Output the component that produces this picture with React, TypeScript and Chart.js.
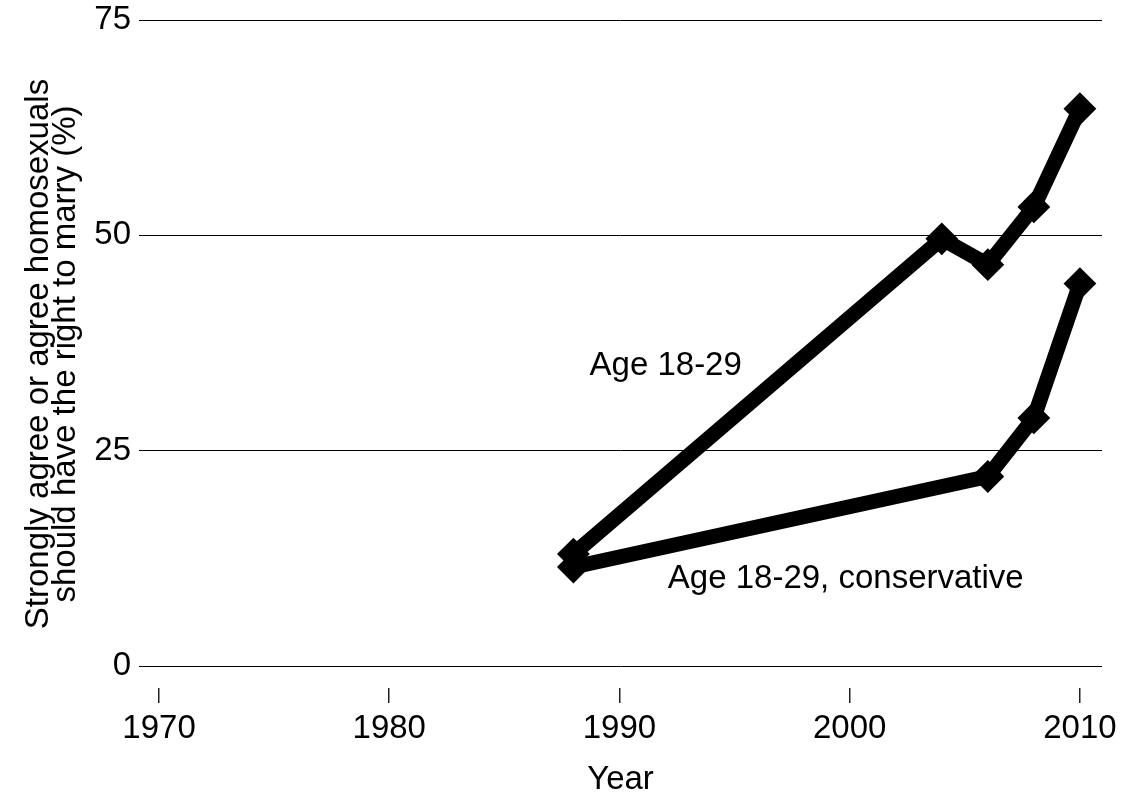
import { useEffect, useRef } from "react";
import { Chart, registerables } from "chart.js";

Chart.register(...registerables);

const yearsYoung = [1988, 2004, 2006, 2008, 2010];
const valuesYoung = [13.0, 49.6, 46.6, 53.3, 64.7];
const yearsCons = [1988, 2006, 2008, 2010];
const valuesCons = [11.5, 22.0, 28.8, 44.4];
const xTicks = [1970, 1980, 1990, 2000, 2010];
const yTicks = [0, 25, 50, 75];
const seriesLabels = [
  { text: "Age 18-29", x: 1988.7, y: 33.8 },
  { text: "Age 18-29, conservative", x: 1992.1, y: 9.1 },
];
const yTitle = ["Strongly agree or agree homosexuals", "should have the right to marry (%)"];
const xTitle = "Year";

const FONT = '"Liberation Sans", Arial, Helvetica, sans-serif';
const FS = 33;

const labelPlugin = {
  id: "seriesLabels",
  afterDatasetsDraw(chart: any) {
    const { ctx, scales } = chart;
    const xs = scales.x;
    const ys = scales.y;
    ctx.save();
    ctx.font = `${FS}px ${FONT}`;
    ctx.fillStyle = "#000";
    ctx.textAlign = "left";
    ctx.textBaseline = "alphabetic";
    for (const l of seriesLabels) {
      ctx.fillText(l.text, xs.getPixelForValue(l.x), ys.getPixelForValue(l.y));
    }
    ctx.restore();
  },
};

export default function App() {
  const ref = useRef<HTMLCanvasElement | null>(null);

  useEffect(() => {
    document.body.style.margin = "0";
    const canvas = ref.current;
    if (!canvas) return;
    const ds = (xs: number[], vs: number[]) => ({
      data: xs.map((x, i) => ({ x, y: vs[i] })),
      borderColor: "#000",
      borderWidth: 15,
      pointStyle: "rectRot" as const,
      pointRadius: 15,
      pointBorderWidth: 2,
      pointBackgroundColor: "#000",
      pointBorderColor: "#000",
      tension: 0,
      fill: false,
    });
    const chart = new Chart(canvas, {
      type: "line",
      data: {
        datasets: [ds(yearsYoung, valuesYoung), ds(yearsCons, valuesCons)],
      },
      options: {
        animation: false,
        responsive: false,
        devicePixelRatio: 1,
        layout: { padding: { top: 20, right: 19, left: 0, bottom: 0 } },
        plugins: { legend: { display: false }, tooltip: { enabled: false } },
        scales: {
          x: {
            type: "linear",
            min: 1969.13,
            max: 2010.96,
            afterBuildTicks: (s: any) => {
              s.ticks = xTicks.map((v) => ({ value: v }));
            },
            afterFit: (s: any) => {
              s.height = 105;
              s.paddingLeft = 0;
              s.paddingRight = 0;
            },
            border: { display: false },
            grid: {
              drawOnChartArea: false,
              drawTicks: true,
              tickLength: 15,
              color: "#222",
              lineWidth: 1.5,
            },
            ticks: {
              color: "#000",
              font: { family: FONT, size: FS },
              padding: 6,
              maxRotation: 0,
              autoSkip: false,
              callback: (v: any) => String(v),
            },
            title: {
              display: true,
              text: xTitle,
              color: "#000",
              font: { family: FONT, size: FS, lineHeight: 0.8 },
              padding: 0,
            },
          },
          y: {
            type: "linear",
            min: -2.55,
            max: 75,
            afterBuildTicks: (s: any) => {
              s.ticks = yTicks.map((v) => ({ value: v }));
            },
            afterFit: (s: any) => {
              s.width = 139;
              s.paddingTop = 0;
              s.paddingBottom = 0;
            },
            border: { display: false },
            grid: { drawTicks: false, color: "#000", lineWidth: 1 },
            ticks: {
              color: "#000",
              font: { family: FONT, size: FS },
              padding: 8,
              callback: (v: any) => String(v),
            },
            title: {
              display: true,
              text: yTitle,
              color: "#000",
              font: { family: FONT, size: FS, lineHeight: 0.82 },
              padding: { top: 25, bottom: 0 },
            },
          },
        },
      },
      plugins: [labelPlugin],
    });
    return () => chart.destroy();
  }, []);

  return (
    <div style={{ width: 1121, height: 793 }}>
      <canvas ref={ref} width={1121} height={793} style={{ width: 1121, height: 793, display: "block" }} />
    </div>
  );
}
